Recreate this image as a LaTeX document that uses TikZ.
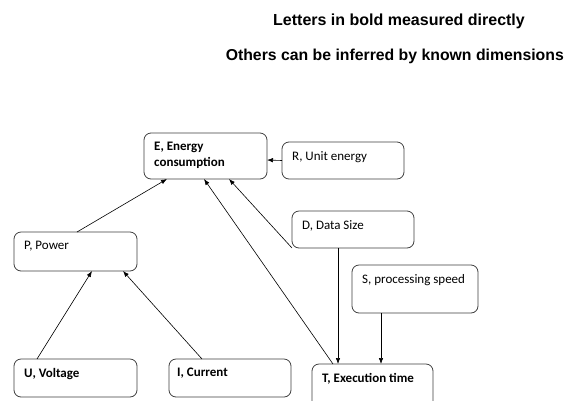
\documentclass[tikz,border=0pt]{standalone}
\usepackage{fontspec}
\setmainfont{Carlito}
\newfontfamily\headfont{Liberation Sans}
\usepackage{tikz}
\usetikzlibrary{arrows.meta, calc}
\tikzstyle{box} = [draw=black!75, line width=0.8pt, rectangle, rounded corners=7pt, inner sep=0pt, outer sep=0pt]
\tikzstyle{lbl} = [anchor=north west, inner sep=0pt, xshift=10pt, yshift=-9pt, align=left, font=\fontsize{13}{16}\selectfont]
\tikzstyle{arrow} = [line width=0.6pt, -{Latex[length=6pt,width=4.5pt]}]

\begin{document}
\begin{tikzpicture}[x=1pt, y=-1pt]
    \useasboundingbox[fill=white] (0,0) rectangle (565,400);
    \node[anchor=base west, inner sep=0pt, font=\headfont\bfseries\fontsize{16}{18}\selectfont] (title1) at (273,25) {Letters in bold measured directly};
    \node[anchor=base east, inner sep=0pt, font=\headfont\bfseries\fontsize{15.8}{18}\selectfont] (title2) at (564,60) {Others can be inferred by known dimensions};
    % boxes
    \node[box, minimum width=123pt, minimum height=46pt, label={[lbl]north west:\textbf{E, Energy}\\\textbf{consumption}}] (energy) at (205.5,156) {};
    \node[box, minimum width=122pt, minimum height=37pt, label={[lbl]north west:R, Unit energy}] (unitenergy) at (343,160.5) {};
    \node[box, minimum width=122pt, minimum height=37pt, label={[lbl]north west:D, Data Size}] (datasize) at (353,229.5) {};
    \node[box, minimum width=123pt, minimum height=39pt, label={[lbl]north west:P, Power}] (power) at (75.5,251.5) {};
    \node[box, minimum width=126pt, minimum height=48pt, label={[lbl]north west:S, processing speed}] (speed) at (415,289) {};
    \node[box, minimum width=123pt, minimum height=38pt, label={[lbl]north west:\textbf{U, Voltage}}] (voltage) at (75.5,378) {};
    \node[box, minimum width=122pt, minimum height=38pt, label={[lbl, xshift=-2pt]north west:\textbf{I, Current}}] (current) at (230,378) {};
    \node[box, minimum width=121pt, minimum height=46pt, label={[lbl]north west:\textbf{T, Execution time}}] (exectime) at (372.5,387) {};
    % connectors
    \draw[arrow] ([xshift=63pt]power.north west) -- ([xshift=23pt]energy.south west);
    \draw[arrow] (unitenergy.west) -- ([yshift=-4pt]energy.east);
    \draw[arrow] ([xshift=21pt]exectime.north west) -- ([xshift=60pt]energy.south west);
    \draw[arrow] (datasize.south west) -- ([xshift=85pt]energy.south west);
    \draw[arrow] ([xshift=46pt]datasize.south west) -- ([xshift=26pt]exectime.north west);
    \draw[arrow] ([xshift=29pt]speed.south west) -- ([xshift=69pt]exectime.north west);
    \draw[arrow] ([xshift=23pt]voltage.north west) -- ([xshift=78pt]power.south west);
    \draw[arrow] ([xshift=33pt]current.north west) -- ([xshift=109pt]power.south west);
\end{tikzpicture}
\end{document}
